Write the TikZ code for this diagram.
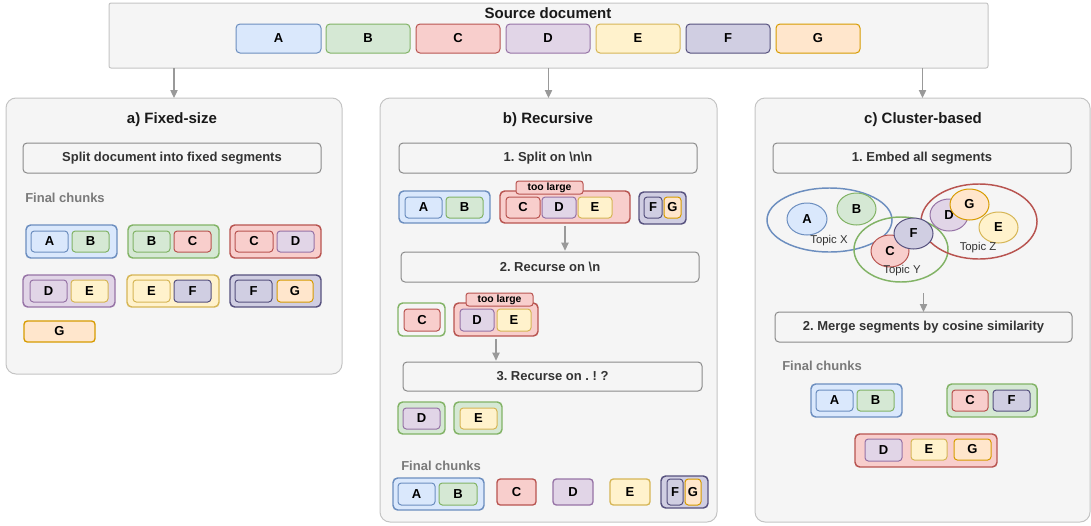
\documentclass[tikz,border=0pt]{standalone}
\usepackage{fontspec}
\setmainfont{Liberation Sans}
\usetikzlibrary{arrows.meta,shapes.geometric}
\frenchspacing
\definecolor{bF}{HTML}{DAE8FC}\definecolor{bS}{HTML}{6C8EBF}
\definecolor{gF}{HTML}{D5E8D4}\definecolor{gS}{HTML}{82B366}
\definecolor{rF}{HTML}{F8CECC}\definecolor{rS}{HTML}{B85450}
\definecolor{pF}{HTML}{E1D5E7}\definecolor{pS}{HTML}{9673A6}
\definecolor{yF}{HTML}{FFF2CC}\definecolor{yS}{HTML}{D6B656}
\definecolor{vF}{HTML}{D0CEE2}\definecolor{vS}{HTML}{56517E}
\definecolor{oF}{HTML}{FFE6CC}\definecolor{oS}{HTML}{D79B00}
\definecolor{panelF}{HTML}{F5F5F5}\definecolor{panelS}{HTML}{C4C4C4}
\definecolor{stepS}{HTML}{8A8A8A}\definecolor{txt}{HTML}{333333}
\definecolor{finalC}{HTML}{7A7A7A}\definecolor{arrC}{HTML}{999999}
\newcommand\fseg{\fontsize{9.75}{11}\selectfont\bfseries}
\newcommand\ftitle{\fontsize{11.25}{13}\selectfont\bfseries}
\newcommand\fsmall{\fontsize{7.8}{9}\selectfont\bfseries}
\newcommand\ftopic{\fontsize{8.5}{10}\selectfont}
\newcommand\bx[7][]{%
  \pgfmathsetmacro\bxw{abs(#5-#3)*0.75}%
  \pgfmathsetmacro\bxh{abs(#6-#4)*0.75}%
  \node[inner sep=0pt, outer sep=0pt, minimum width=\bxw pt, minimum height=\bxh pt, #1] (#2) at ({(#3+#5)/2},{(#4+#6)/2}) {#7};}
\tikzset{
  panel/.style={fill=panelF, draw=panelS, line width=0.75pt, rounded corners=7.5pt},
  srcbox/.style={fill=panelF, draw=panelS, line width=0.75pt, rounded corners=1.5pt},
  stepbox/.style={fill=panelF, draw=stepS, line width=0.75pt, rounded corners=3pt, font=\fseg, text=txt},
  segbase/.style={line width=0.75pt, rounded corners=2.5pt, font=\fseg, text=black},
  segA/.style={segbase, fill=bF, draw=bS},
  segB/.style={segbase, fill=gF, draw=gS},
  segC/.style={segbase, fill=rF, draw=rS},
  segD/.style={segbase, fill=pF, draw=pS},
  segE/.style={segbase, fill=yF, draw=yS},
  segF/.style={segbase, fill=vF, draw=vS},
  segG/.style={segbase, fill=oF, draw=oS},
  chbase/.style={line width=1.1pt, rounded corners=3.5pt},
  chA/.style={chbase, fill=bF, draw=bS},
  chB/.style={chbase, fill=gF, draw=gS},
  chC/.style={chbase, fill=rF, draw=rS},
  chD/.style={chbase, fill=pF, draw=pS},
  chE/.style={chbase, fill=yF, draw=yS},
  chF/.style={chbase, fill=vF, draw=vS},
  chW/.style={chbase, fill=panelF, draw=gS},
  toolarge/.style={fill=rF, draw=rS, line width=0.75pt, rounded corners=2pt, font=\fsmall, text=black},
  arr/.style={draw=arrC, line width=0.9pt, -{Triangle[length=6pt,width=5.5pt]}},
  lbl/.style={font=\fseg, text=finalC, anchor=west, inner sep=0pt},
  ttl/.style={font=\ftitle, text=black!90, inner sep=0pt},
  topic/.style={ellipse, line width=1.1pt},
  circ/.style={ellipse, line width=0.75pt, font=\fseg, text=black},
  topiclbl/.style={font=\ftopic, text=txt, inner sep=0pt}
}
\begin{document}
\begin{tikzpicture}[x=0.75pt,y=-0.75pt]
\useasboundingbox (0,0) rectangle (1091,525);
% ---------- source document
\bx[srcbox]{src}{109}{3}{988}{68}{}
\node[ttl] (srcT) at (548,13) {Source document};
\bx[segA,rounded corners=3pt]{s0a}{236}{24}{321}{53}{A}
\bx[segB,rounded corners=3pt]{s0b}{326}{24}{410}{53}{B}
\bx[segC,rounded corners=3pt]{s0c}{416}{24}{500}{53}{C}
\bx[segD,rounded corners=3pt]{s0d}{506}{24}{590}{53}{D}
\bx[segE,rounded corners=3pt]{s0e}{596}{24}{680}{53}{E}
\bx[segF,rounded corners=3pt]{s0f}{686}{24}{770}{53}{F}
\bx[segG,rounded corners=3pt]{s0g}{776}{24}{860}{53}{G}
% ---------- panels
\bx[panel]{pa}{6}{98}{342}{374}{}
\bx[panel]{pb}{380}{98}{717}{522}{}
\bx[panel]{pc}{755}{98}{1090}{522}{}
\draw[arr] (pa.north |- src.south) -- (pa.north);
\draw[arr] (pb.north |- src.south) -- (pb.north);
\draw[arr] (pc.north |- src.south) -- (pc.north);
% ---------- panel a
\node[ttl] (ta) at (172,120) {a) Fixed-size};
\bx[stepbox]{sa}{23}{143}{321}{173}{Split document into fixed segments}
\node[lbl] (fa) at (25,198) {Final chunks};
\bx[chA]{a1}{26}{225}{117}{258}{}
\bx[segA]{a1a}{31}{231}{68}{252}{A}
\bx[segB]{a1b}{72}{231}{109}{252}{B}
\bx[chB]{a2}{128}{225}{219}{258}{}
\bx[segB]{a2b}{133}{231}{170}{252}{B}
\bx[segC]{a2c}{174}{231}{211}{252}{C}
\bx[chC]{a3}{230}{225}{321}{258}{}
\bx[segC]{a3c}{235}{231}{273}{252}{C}
\bx[segD]{a3d}{277}{231}{314}{252}{D}
\bx[chD]{a4}{23}{275}{115}{307}{}
\bx[segD]{a4d}{30}{280}{67}{302}{D}
\bx[segE]{a4e}{71}{280}{108}{302}{E}
\bx[chE]{a5}{127}{275}{219}{307}{}
\bx[segE]{a5e}{133}{280}{170}{302}{E}
\bx[segF]{a5f}{174}{280}{211}{302}{F}
\bx[chF]{a6}{230}{275}{321}{307}{}
\bx[segF]{a6f}{235}{280}{272}{302}{F}
\bx[segG]{a6g}{277}{280}{313}{302}{G}
\bx[segG,line width=1pt]{a7g}{24}{321}{95}{342}{G}
% ---------- panel b
\node[ttl] (tb) at (548,120) {b) Recursive};
\bx[stepbox]{b1}{399}{143}{697}{173}{1. Split on \textbackslash n\textbackslash n}
\bx[chA]{bab}{399}{191}{490}{223}{}
\bx[segA]{baba}{405}{197}{442}{218}{A}
\bx[segB]{babb}{446}{197}{483}{218}{B}
\bx[chC]{bcde}{500}{191}{630}{223}{}
\bx[segC]{bcdec}{506}{197}{540}{218}{C}
\bx[segD]{bcded}{542}{197}{576}{218}{D}
\bx[segE]{bcdee}{578}{197}{612}{218}{E}
\bx[toolarge]{tl1}{516}{181}{583}{194}{too large}
\bx[chF]{bfg}{639}{192}{686}{224}{}
\bx[segF]{bfgf}{644}{197}{662}{218}{F}
\bx[segG]{bfgg}{664}{197}{681}{218}{G}
\bx[stepbox]{b2}{401}{252}{699}{282}{2. Recurse on \textbackslash n}
\draw[arr, shorten <=2pt, shorten >=1pt] (bcde.south) -- (bcde.south |- b2.north);
\bx[chW]{bc}{398}{303}{445}{336}{}
\bx[segC]{bcc}{404}{309}{440}{331}{C}
\bx[chC]{bde}{454}{303}{538}{336}{}
\bx[segD]{bded}{460}{309}{494}{331}{D}
\bx[segE]{bdee}{497}{309}{531}{331}{E}
\bx[toolarge]{tl2}{466}{293}{533}{306}{too large}
\bx[stepbox]{b3}{403}{362}{702}{391}{3. Recurse on . ! ?}
\draw[arr, shorten <=2pt, shorten >=1pt] (bde.south) -- (bde.south |- b3.north);
\bx[chB]{bd}{398}{402}{445}{434}{}
\bx[segD]{bdd}{403}{408}{440}{429}{D}
\bx[chB]{be}{454}{402}{502}{434}{}
\bx[segE]{bee}{460}{408}{497}{429}{E}
\node[lbl] (fb) at (401,466) {Final chunks};
\bx[chA]{fab}{393}{478}{484}{510}{}
\bx[segA]{faba}{398}{483}{435}{505}{A}
\bx[segB]{fabb}{439}{483}{477}{505}{B}
\bx[segC,line width=1pt]{fc}{497}{479}{536}{505}{C}
\bx[segD,line width=1pt]{fd}{553}{479}{593}{505}{D}
\bx[segE,line width=1pt]{fe}{610}{479}{650}{505}{E}
\bx[chF]{ffg}{661}{476}{708}{508}{}
\bx[segF]{ffgf}{667}{479}{683}{505}{F}
\bx[segG]{ffgg}{685}{479}{701}{505}{G}
% ---------- panel c
\node[ttl] (tc) at (923,120) {c) Cluster-based};
\bx[stepbox]{c1}{773}{143}{1071}{173}{1. Embed all segments}
\bx[topic, draw=bS]{tx}{767}{188}{892}{252}{}
\bx[topic, draw=gS]{ty}{854}{217}{948}{282}{}
\bx[topic, draw=rS]{tz}{921}{184}{1037}{259}{}
\bx[circ, fill=bF, draw=bS]{ca}{787}{203}{827}{235}{A}
\bx[circ, fill=gF, draw=gS]{cb}{837}{193}{876}{225}{B}
\bx[circ, fill=rF, draw=rS]{cc}{871}{235}{909}{267}{C}
\bx[circ, fill=vF, draw=vS]{cf}{894}{218}{933}{249}{F}
\bx[circ, fill=pF, draw=pS]{cd}{930}{199}{968}{231}{D}
\bx[circ, fill=yF, draw=yS]{ce}{979}{212}{1018}{243}{E}
\bx[circ, fill=oF, draw=oS]{cg}{950}{189}{989}{220}{G}
\node[topiclbl] (lx) at (829,241) {Topic X};
\node[topiclbl] (ly) at (902,271) {Topic Y};
\node[topiclbl] (lz) at (978,248) {Topic Z};
\bx[stepbox]{c2}{775}{312}{1072}{342}{2. Merge segments by cosine similarity}
\coordinate (carr) at (923.5,293);
\draw[arr] (carr) -- (c2.north);
\node[lbl] (fcl) at (782,366) {Final chunks};
\bx[chA]{kab}{811}{384}{902}{417}{}
\bx[segA]{kaba}{816}{390}{853}{411}{A}
\bx[segB]{kabb}{857}{390}{894}{411}{B}
\bx[chB]{kcf}{947}{384}{1037}{417}{}
\bx[segC]{kcfc}{952}{390}{988}{411}{C}
\bx[segF]{kcff}{993}{390}{1030}{411}{F}
\bx[chC]{kdeg}{855}{434}{997}{467}{}
\bx[segD]{kdegd}{865}{439}{902}{461}{D}
\bx[segE]{kdege}{911}{439}{947}{460}{E}
\bx[segG]{kdegg}{954}{439}{991}{460}{G}
\end{tikzpicture}
\end{document}
